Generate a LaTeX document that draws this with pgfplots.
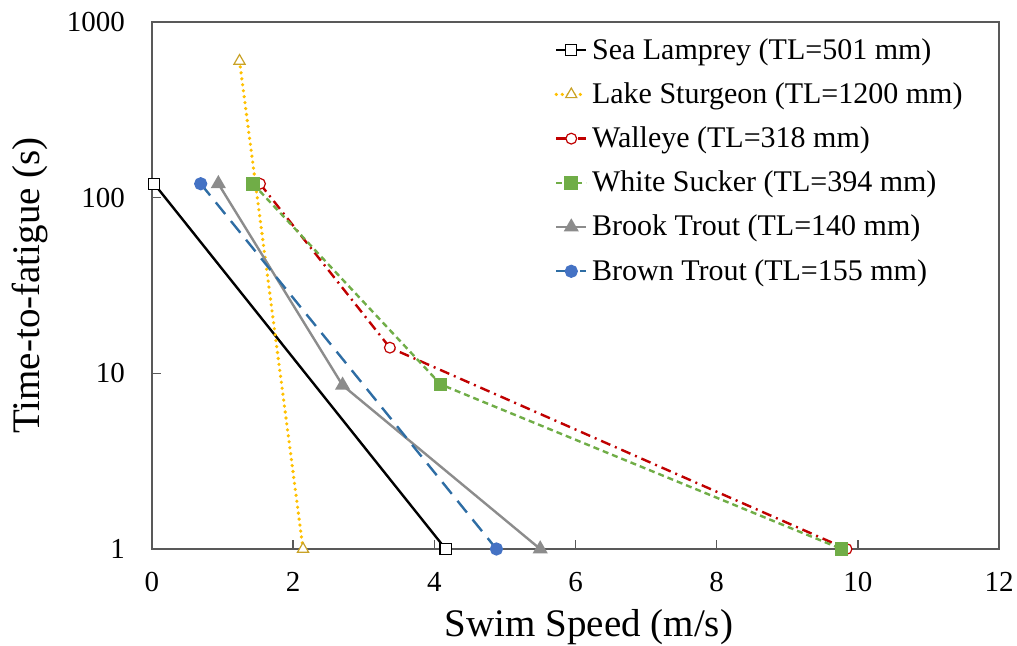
\documentclass[border=0pt]{standalone}
\usepackage{fontspec}
\setmainfont{Liberation Serif}
\usepackage{pgfplots}
\pgfplotsset{compat=1.18}

\definecolor{axgray}{HTML}{595959}
\definecolor{sturg}{HTML}{FFC000}
\definecolor{sturgedge}{HTML}{C9A227}
\definecolor{walleye}{HTML}{C00000}
\definecolor{sucker}{HTML}{70AD47}
\definecolor{brook}{HTML}{8C8C8C}
\definecolor{brownline}{HTML}{2E6DA4}
\definecolor{brownmark}{HTML}{4472C4}

\begin{document}
\begin{tikzpicture}
\useasboundingbox (-76pt,-48.5pt) rectangle (432.5pt,274.5pt);
\begin{axis}[
  scale only axis,
  width=423.5pt, height=263.5pt,
  xmin=0, xmax=12,
  ymode=log, ymin=1, ymax=1000,
  xtick={0,2,4,6,8,10,12},
  ytick={1,10,100,1000},
  yticklabels={1,10,100,1000},
  yminorticks=false,
  tick align=inside,
  xtick pos=left, ytick pos=left,
  major tick length=4.5pt,
  axis line style={axgray, line width=0.7pt},
  every tick/.style={axgray, line width=0.7pt},
  tick label style={font=\fontsize{14.5}{17}\selectfont},
  xticklabel style={yshift=-8pt},
  yticklabel style={xshift=-10pt},
  /pgf/number format/assume math mode=true,
  xlabel={Swim Speed (m/s)},
  ylabel={Time-to-fatigue (s)},
  label style={font=\fontsize{19.5}{23}\selectfont},
  xlabel style={at={(axis description cs:0.516,0)}, anchor=center, yshift=-39pt},
  ylabel style={at={(axis description cs:-0.144,0.5)}, anchor=center},
  legend style={at={(rel axis cs:0.47,0.985)}, anchor=north west, draw=none, fill=none,
    font=\fontsize{15}{18}\selectfont, row sep=6.2pt, inner sep=2pt},
  legend cell align=left,
  legend image code/.code={\draw[mark repeat=2,mark phase=2] plot coordinates {(0pt,0pt) (7.5pt,0pt) (15pt,0pt)};},
]
\addplot[black, line width=1.2pt, mark=square*, mark size=2.8pt,
  mark options={solid, fill=white, draw=black, line width=0.6pt}]
  coordinates {(0.03,120) (4.16,1)};
\addlegendentry{Sea Lamprey (TL=501 mm)}

\addplot[sturg, line width=1.8pt, line cap=round, dash pattern=on 0pt off 3pt,
  mark=triangle*, mark size=3.2pt,
  mark options={solid, fill=white, draw=sturgedge, line width=0.6pt}]
  coordinates {(1.24,600) (2.14,1)};
\addlegendentry{Lake Sturgeon (TL=1200 mm)}

\addplot[walleye, line width=1.2pt, dash pattern=on 5pt off 2.5pt on 1pt off 2.5pt,
  mark=*, mark size=2.7pt,
  mark options={solid, fill=white, draw=walleye, line width=0.6pt}]
  coordinates {(1.53,120) (3.37,14) (9.84,1)};
\addlegendentry{Walleye (TL=318 mm)}

\addplot[sucker, line width=1.2pt, dash pattern=on 3pt off 2pt,
  mark=square*, mark size=2.8pt,
  mark options={solid, fill=sucker, draw=sucker}]
  coordinates {(1.43,120) (4.09,8.65) (9.77,1)};
\addlegendentry{White Sucker (TL=394 mm)}

\addplot[brook, line width=1.2pt,
  mark=triangle*, mark size=3.2pt,
  mark options={solid, fill=brook, draw=brook}]
  coordinates {(0.94,120) (2.70,8.55) (5.50,1)};
\addlegendentry{Brook Trout (TL=140 mm)}

\addplot[brownline, line width=1.2pt, dash pattern=on 7.5pt off 4.5pt,
  mark=*, mark size=2.7pt,
  mark options={solid, fill=brownmark, draw=brownmark}]
  coordinates {(0.69,120) (4.88,1)};
\addlegendentry{Brown Trout (TL=155 mm)}
\end{axis}
\end{tikzpicture}
\end{document}
